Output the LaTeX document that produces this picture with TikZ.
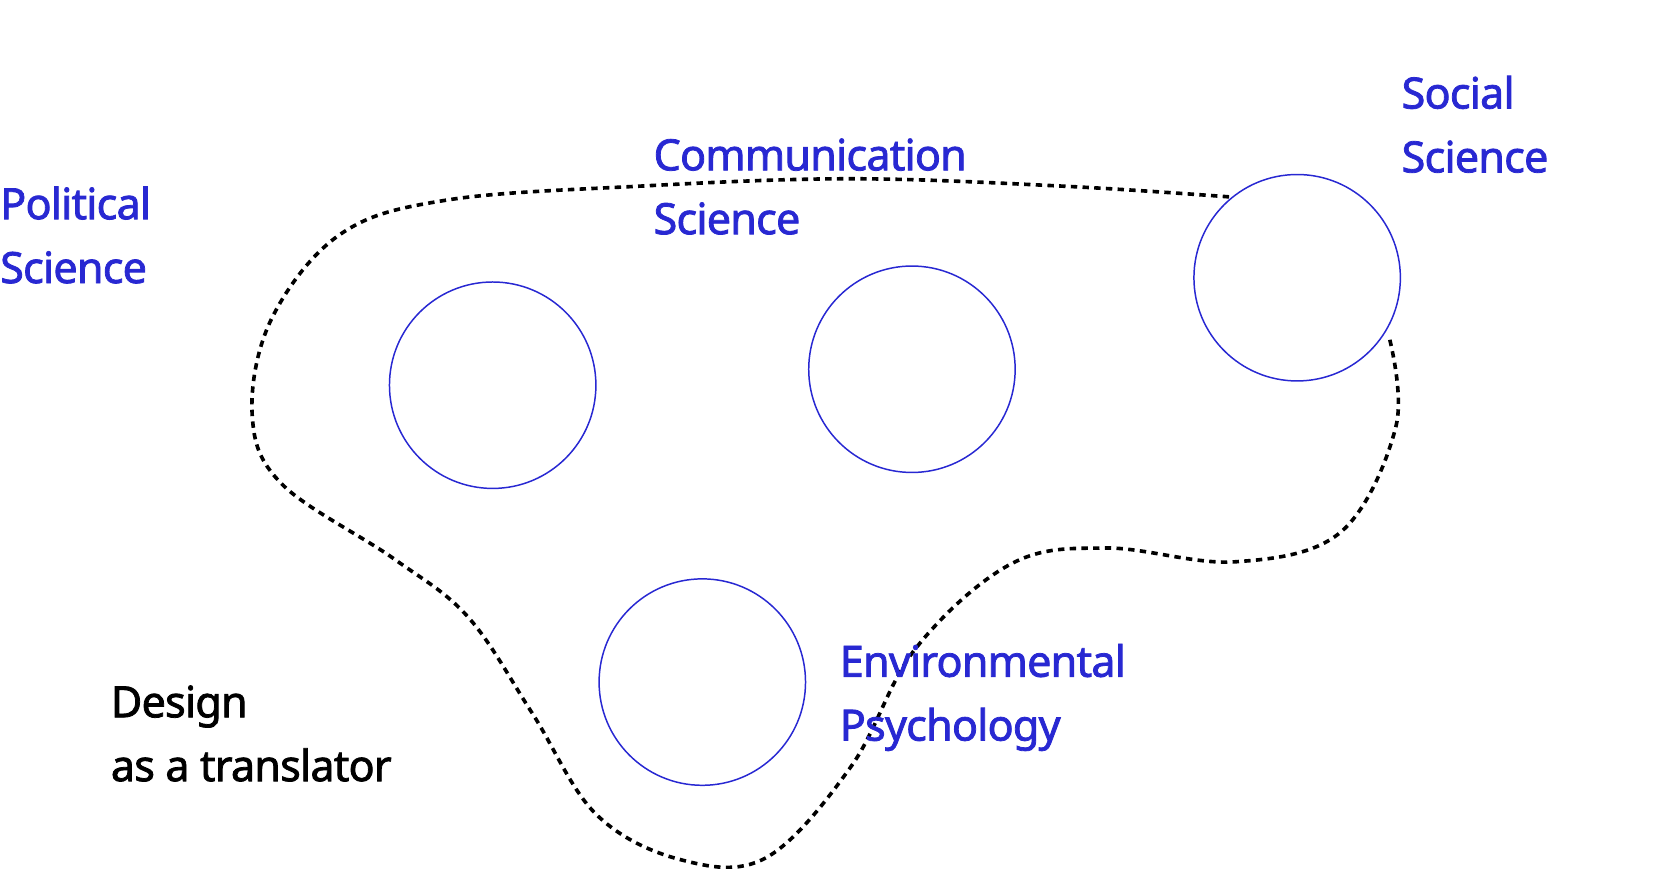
\documentclass[tikz,border=0pt]{standalone}
\usepackage{fontspec}
\setmainfont{Noto Sans}[AutoFakeBold=1.8,LetterSpace=-1.8]
\begin{document}
\begin{tikzpicture}[x=1pt,y=-1pt,
  lab/.style={anchor=north west,align=left,inner sep=0pt,font=\bfseries\fontsize{40.5}{60}\selectfont,text=blu},
  circ/.style={circle,draw=blu,line width=1.4pt,minimum size=194pt,inner sep=0pt},
  blob/.style={draw=black,line width=3.4pt,dash pattern=on 6pt off 5pt}]
\definecolor{blu}{RGB}{40,40,210}
\useasboundingbox (0,0) rectangle (1560,816);
\node[circ] (c1) at (463,362) {};
\node[circ] (c2) at (857,347) {};
\node[circ] (c3) at (1219,261) {};
\node[circ] (c4) at (660,641) {};
\draw[blob] plot[smooth,tension=0.6] coordinates {(1155,185) (1000,175) (800,168) (600,175) (420,188) (320,220) (255,300) (237,390) (265,455) (370,525) (440,580) (500,670) (560,765) (640,808) (720,806) (800,720) (860,610) (950,530) (1040,515) (1160,528) (1260,500) (1312,400) (1305,315)};
\node[lab] (pol) at (0,175) {Political\\Science};
\node[lab] (com) at (614,130) {Communication\\Science};
\node[lab] (soc) at (1317,71) {Social\\Science};
\node[lab] (env) at (789,605) {Environmental\\Psychology};
\node[lab,text=black] (des) at (104,644) {Design\\as a translator};
\end{tikzpicture}
\end{document}
